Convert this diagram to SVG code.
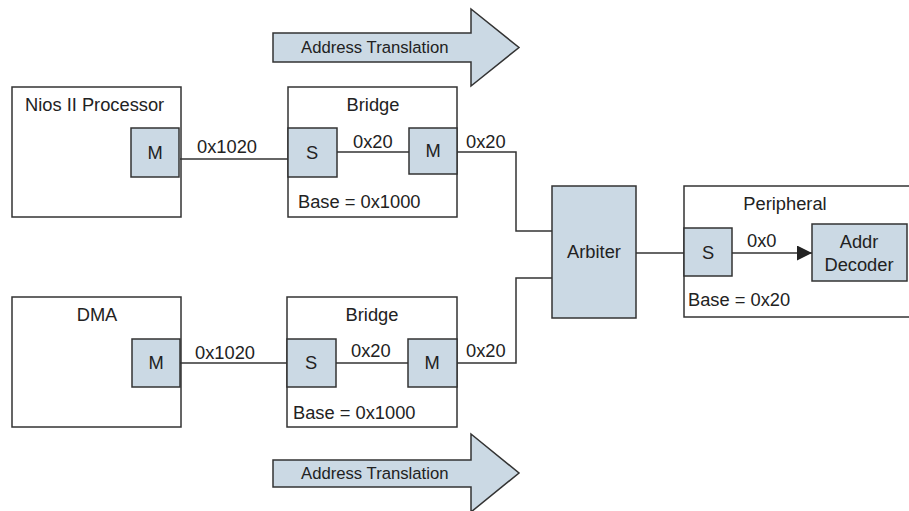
<svg xmlns="http://www.w3.org/2000/svg" width="909" height="511" viewBox="0 0 909 511">
  <style>
    .box { fill: #ffffff; stroke: #333333; stroke-width: 1.5; }
    .port { fill: #cbd9e4; stroke: #333333; stroke-width: 1.5; }
    .wire { fill: none; stroke: #333333; stroke-width: 1.5; }
    .lbl { font-family: "Liberation Sans", Arial, sans-serif; font-size: 18.3px; fill: #222222; }
    .mid { text-anchor: middle; }
    .arrowtxt { font-family: "Liberation Sans", Arial, sans-serif; font-size: 16.7px; fill: #222222; }
  </style>
  <defs>
    <marker id="head" viewBox="0 0 10 10" refX="10" refY="5" markerWidth="20" markerHeight="15" markerUnits="userSpaceOnUse" orient="auto">
      <path d="M0,0 L10,5 L0,10 Z" fill="#222222"/>
    </marker>
  </defs>
  <rect width="909" height="511" fill="#ffffff"/>

  <!-- Address translation banners -->
  <g id="translation-top">
    <path class="port" d="M273,33 H471 V9 L519,47.5 L471,86 V62 H273 Z"/>
    <text class="arrowtxt" x="301" y="53">Address Translation</text>
  </g>
  <g id="translation-bottom">
    <path class="port" d="M273,460 H471 V434 L519,473 L471,512 V487 H273 Z"/>
    <text class="arrowtxt" x="301" y="479">Address Translation</text>
  </g>

  <!-- Nios II Processor -->
  <g id="nios">
    <rect class="box" x="12" y="87" width="169" height="130"/>
    <text class="lbl" x="25" y="111">Nios II Processor</text>
    <rect class="port" x="131" y="128" width="48" height="49"/>
    <text class="lbl mid" x="155" y="159">M</text>
  </g>

  <!-- Bridge (upper) -->
  <g id="bridge-top">
    <rect class="box" x="288" y="87" width="169" height="130"/>
    <text class="lbl mid" x="373" y="111">Bridge</text>
    <rect class="port" x="288" y="128" width="49" height="49"/>
    <text class="lbl mid" x="312" y="159">S</text>
    <rect class="port" x="409" y="128" width="48" height="46"/>
    <text class="lbl mid" x="433" y="157">M</text>
    <text class="lbl" x="298" y="208">Base = 0x1000</text>
  </g>

  <!-- DMA -->
  <g id="dma">
    <rect class="box" x="12" y="297" width="169" height="130"/>
    <text class="lbl mid" x="97" y="321">DMA</text>
    <rect class="port" x="132" y="339" width="48" height="48"/>
    <text class="lbl mid" x="156" y="369">M</text>
  </g>

  <!-- Bridge (lower) -->
  <g id="bridge-bottom">
    <rect class="box" x="287" y="297" width="170" height="130"/>
    <text class="lbl mid" x="372" y="321">Bridge</text>
    <rect class="port" x="287" y="339" width="49" height="48"/>
    <text class="lbl mid" x="311" y="369">S</text>
    <rect class="port" x="408" y="339" width="49" height="48"/>
    <text class="lbl mid" x="432" y="369">M</text>
    <text class="lbl" x="293" y="419">Base = 0x1000</text>
  </g>

  <!-- Arbiter -->
  <g id="arbiter">
    <rect class="port" x="552" y="186" width="84" height="132"/>
    <text class="lbl mid" x="594" y="258">Arbiter</text>
  </g>

  <!-- Peripheral -->
  <g id="peripheral">
    <rect class="box" x="684" y="186" width="240" height="131"/>
    <text class="lbl mid" x="785" y="210">Peripheral</text>
    <rect class="port" x="684" y="228" width="48" height="48"/>
    <text class="lbl mid" x="708" y="259">S</text>
    <text class="lbl" x="688" y="306">Base = 0x20</text>
  </g>

  <!-- Address decoder -->
  <g id="decoder">
    <rect class="port" x="812" y="224" width="95" height="57"/>
    <text class="lbl mid" x="859" y="248">Addr</text>
    <text class="lbl mid" x="859" y="271">Decoder</text>
  </g>

  <!-- Connectors, drawn last so they sit on top of the block outlines -->
  <g id="connectors">
    <line class="wire" x1="180" y1="159" x2="288" y2="159"/>
    <line class="wire" x1="337" y1="152" x2="409" y2="152"/>
    <polyline class="wire" points="457,152 516,152 516,231 552,231"/>
    <line class="wire" x1="180" y1="363" x2="287" y2="363"/>
    <line class="wire" x1="336" y1="363" x2="408" y2="363"/>
    <polyline class="wire" points="457,363 516,363 516,278 552,278"/>
    <line class="wire" x1="636" y1="253" x2="684" y2="253"/>
    <line class="wire" x1="732" y1="253" x2="812" y2="253" marker-end="url(#head)"/>
    <text class="lbl" x="197" y="153">0x1020</text>
    <text class="lbl" x="353" y="148">0x20</text>
    <text class="lbl" x="466" y="148">0x20</text>
    <text class="lbl" x="195" y="359">0x1020</text>
    <text class="lbl" x="351" y="357">0x20</text>
    <text class="lbl" x="466" y="357">0x20</text>
    <text class="lbl" x="747" y="247">0x0</text>
  </g>
</svg>
